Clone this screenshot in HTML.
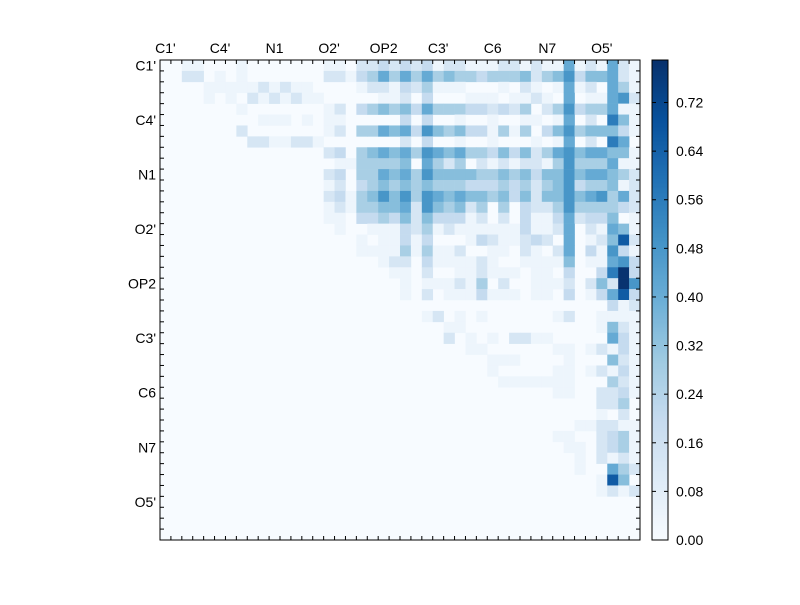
<!DOCTYPE html>
<html><head><meta charset="utf-8"><style>
body{margin:0;background:#fff;font-family:"Liberation Sans",sans-serif;}
</style></head><body>
<svg id="chart" width="800" height="600" xmlns="http://www.w3.org/2000/svg">
<rect width="800" height="600" fill="#fff"/>
<g id="cells"></g>
<g id="axes"></g>
<g id="cbar"></g>
</svg>
<script>
const atomLabels = ["C1'","C4'","N1","O2'","OP2","C3'","C6","N7","O5'"];
const colorbarTicks = [0.00,0.08,0.16,0.24,0.32,0.40,0.48,0.56,0.64,0.72];
const nCells = 44;
const vmax = 0.79;
const levelValues = [0,0.04,0.13,0.2,0.27,0.34,0.41,0.48,0.56,0.66,0.78];
// sparse rows: "col:level"
const rowData = [
"2:1 3:1 7:1 15:1 16:1 18:2 19:2 20:3 21:2 22:3 23:2 24:3 25:1 26:2 27:2 28:1 29:1 30:1 31:2 32:2 33:1 34:2 35:1 36:1 37:6 38:1 39:2 40:1 41:6 42:2 43:1",
"2:2 3:2 5:1 7:1 15:2 16:2 17:1 18:3 19:4 20:6 21:4 22:6 23:4 24:6 25:4 26:5 27:4 28:4 29:3 30:4 31:4 32:4 33:5 34:2 35:4 36:5 37:7 38:3 39:5 40:5 41:6 42:2 43:1",
"4:1 5:1 6:1 7:1 8:1 9:2 10:1 11:2 12:1 13:1 18:1 19:2 20:2 21:1 22:3 23:2 24:4 25:1 26:1 27:1 31:1 33:2 34:1 36:1 37:6 38:1 39:2 41:6 42:4 43:1",
"4:1 6:1 8:2 9:1 10:2 11:1 12:2 13:1 14:1 20:1 21:1 22:2 24:3 28:1 29:1 30:1 32:1 33:1 34:2 35:1 37:6 39:1 40:1 41:6 42:7 43:2",
"7:1 15:1 16:2 18:3 19:4 20:5 21:4 22:5 23:3 24:6 25:4 26:4 27:4 28:3 29:3 30:2 31:3 32:2 33:4 35:2 36:4 37:7 38:3 39:4 40:4 41:6 42:1 43:1",
"9:1 10:1 11:1 13:1 15:1 16:1 22:3 24:3 27:1 30:1 33:1 34:1 36:1 37:6 39:2 41:8 42:5 43:1",
"7:2 15:1 16:2 18:4 19:4 20:6 21:5 22:6 23:3 24:7 25:5 26:4 27:5 28:3 29:3 30:1 31:4 32:1 33:4 35:3 36:5 37:7 38:4 39:5 40:5 41:5 42:3 43:1",
"8:2 9:2 10:1 11:1 12:2 13:2 14:1 22:2 24:3 27:1 30:1 34:1 36:1 37:6 39:2 41:8 42:6",
"15:2 16:3 18:4 19:5 20:6 21:5 22:6 23:4 24:7 25:6 26:5 27:6 28:4 29:4 30:3 31:5 32:3 33:5 34:2 35:4 36:6 37:7 38:5 39:6 40:6 41:5 42:5 43:1",
"16:1 17:1 18:4 19:4 20:4 21:4 22:5 24:6 25:4 26:2 27:4 29:2 30:1 31:2 32:1 33:2 34:2 35:1 36:4 37:7 38:4 39:4 40:4 41:6 42:1 43:1",
"15:2 16:3 18:4 19:4 20:6 21:5 22:6 23:4 24:7 25:5 26:5 27:5 28:5 29:4 30:4 31:5 32:4 33:5 34:3 35:5 36:5 37:7 38:5 39:6 40:6 41:5 42:4 43:2",
"15:1 16:2 18:3 19:4 20:5 21:4 22:5 23:4 24:5 25:4 26:4 27:4 28:3 29:3 30:3 31:4 32:3 33:4 34:2 35:4 36:5 37:7 38:3 39:4 40:4 41:5 42:1 43:2",
"15:2 16:3 17:1 18:4 19:5 20:7 21:5 22:7 23:4 24:7 25:6 26:5 27:6 28:5 29:5 30:4 31:5 32:3 33:5 34:2 35:5 36:5 37:7 38:5 39:6 40:7 41:4 42:6 43:2",
"15:1 16:2 17:1 18:4 19:4 20:5 21:5 22:6 23:2 24:7 25:5 26:4 27:5 28:2 29:4 31:4 33:3 34:2 35:2 36:4 37:7 38:4 39:4 40:4 41:4 42:3 43:2",
"15:1 16:1 18:3 19:3 20:4 21:3 22:5 23:2 24:5 25:3 26:3 27:3 28:1 29:2 31:2 33:3 34:1 35:1 36:3 37:6 38:2 39:3 40:3 41:5 43:1",
"16:1 19:1 20:1 21:1 22:3 23:2 24:4 25:1 26:2 27:1 28:1 29:1 30:1 31:1 32:1 33:3 34:1 35:1 36:2 37:6 39:2 40:1 41:6 42:5 43:1",
"18:1 20:1 21:1 22:3 23:1 24:3 28:1 29:3 30:2 31:1 32:1 33:2 34:3 35:2 37:6 39:1 40:2 41:5 42:9 43:2",
"18:1 19:1 20:1 21:1 22:4 23:1 24:4 25:1 26:1 27:2 30:1 31:1 33:2 34:1 36:2 37:6 39:3 40:1 41:7 42:3 43:1",
"20:1 21:2 22:2 24:3 25:1 26:1 27:1 28:1 29:2 30:1 33:1 34:1 35:1 36:1 37:5 39:1 40:1 41:6 42:7 43:3",
"21:1 22:1 24:2 27:1 28:1 29:2 30:1 31:1 32:1 34:1 35:1 37:3 40:3 41:8 42:10 43:3",
"22:1 24:1 25:1 26:1 27:2 28:1 29:4 31:2 34:1 35:1 36:1 37:2 39:2 40:5 41:2 42:10 43:7",
"22:1 24:2 26:1 27:1 28:1 29:3 30:1 31:1 32:1 34:1 35:1 37:3 39:1 40:3 41:6 42:9 43:3",
"41:3 42:1 43:2",
"24:1 25:2 27:1 29:1 36:1 37:2 40:1 41:1 42:1 43:1",
"26:1 27:1 40:1 41:5 42:2 43:1",
"26:2 28:1 30:1 32:2 33:2 34:1 35:1 41:6 42:3 43:1",
"28:1 29:1 36:1 37:1 39:1 40:2 41:1 42:3 43:1",
"30:1 31:1 32:1 37:1 41:5 42:2 43:1",
"30:1 36:1 37:1 39:1 40:2 41:1 42:3 43:1",
"31:1 32:1 33:1 34:1 35:1 36:1 37:1 41:4 42:2 43:1",
"36:1 37:1 40:2 41:2 42:3 43:1",
"40:2 41:2 42:4",
"40:1 42:2",
"38:1 39:1 40:2 41:2 42:1 43:1",
"36:1 37:1 40:2 41:3 42:4 43:1",
"37:1 38:1 40:2 41:3 42:4 43:1",
"38:1 40:2 41:1 42:2 43:1",
"38:1 41:6 42:4 43:2",
"40:1 41:9 42:5",
"40:1 41:2 42:1 43:2",
"","","",""
];
const NS="http://www.w3.org/2000/svg";
const X0=160,Y0=60,W=480,H=480,cs=W/nCells;
const xPos=c=>X0+c*cs, yPos=r=>Y0+r*cs;
const stops=["#f7fbff","#deebf7","#c6dbef","#9ecae1","#6baed6","#4292c6","#2171b5","#08519c","#08306b"];
function hex(h){return [1,3,5].map(i=>parseInt(h.substr(i,2),16));}
function cmap(v){let t=Math.max(0,Math.min(1,v/vmax))*(stops.length-1);let i=Math.min(Math.floor(t),stops.length-2),f=t-i;
 const a=hex(stops[i]),b=hex(stops[i+1]);return "rgb("+a.map((x,k)=>Math.round(x+(b[k]-x)*f)).join(",")+")";}
function mk(tag,attrs,parent){const e=document.createElementNS(NS,tag);for(const k in attrs)e.setAttribute(k,attrs[k]);parent.appendChild(e);return e;}
const cells=document.getElementById('cells');
const bg=mk('rect',{x:X0,y:Y0,width:W,height:H,fill:cmap(0)},cells);


rowData.forEach((row,r)=>{ if(!row) return; row.split(' ').forEach(p=>{const [c,l]=p.split(':').map(Number);
 const v=levelValues[l];
 const e=mk('rect',{x:xPos(c),y:yPos(r),width:cs+0.3,height:cs+0.3,fill:cmap(v)},cells);
 
 
});});
const ax=document.getElementById('axes');
const frame=mk('rect',{x:X0,y:Y0,width:W,height:H,fill:'none',stroke:'#000','stroke-width':1},ax);


for(let i=1;i<nCells;i++){const p=X0+i*cs;
 mk('line',{x1:p,y1:Y0,x2:p,y2:Y0+4,stroke:'#000'},ax);mk('line',{x1:p,y1:Y0+H,x2:p,y2:Y0+H-4,stroke:'#000'},ax);
 const q=Y0+i*cs;mk('line',{x1:X0,y1:q,x2:X0+4,y2:q,stroke:'#000'},ax);mk('line',{x1:X0+W,y1:q,x2:X0+W-4,y2:q,stroke:'#000'},ax);}
atomLabels.forEach((lab,i)=>{const c=xPos(i*5)+cs/2;
 const t=mk('text',{x:c,y:Y0-7,'text-anchor':'middle','font-size':14},ax);t.textContent=lab;
 
 
 const u=mk('text',{x:X0-4,y:yPos(i*5)+cs/2+5,'text-anchor':'end','font-size':14},ax);u.textContent=lab;
 
 
});
const cb=document.getElementById('cbar');
const CX=652,CW=16;
for(let i=0;i<240;i++){const v=vmax*(i/240);mk('rect',{x:CX,y:540-(i+1)*2,width:CW,height:2.3,fill:cmap(v)},cb);}
const cbf=mk('rect',{x:CX,y:60,width:CW,height:480,fill:'none',stroke:'#000'},cb);


colorbarTicks.forEach(v=>{const y=540-v/vmax*480;
 mk('line',{x1:CX+CW,y1:y,x2:CX+CW-4,y2:y,stroke:'#000'},cb);mk('line',{x1:CX,y1:y,x2:CX+4,y2:y,stroke:'#000'},cb);
 const t=mk('text',{x:CX+CW+8,y:y+5,'font-size':14},cb);t.textContent=v.toFixed(2);
 
 
});
</script>
</body></html>
